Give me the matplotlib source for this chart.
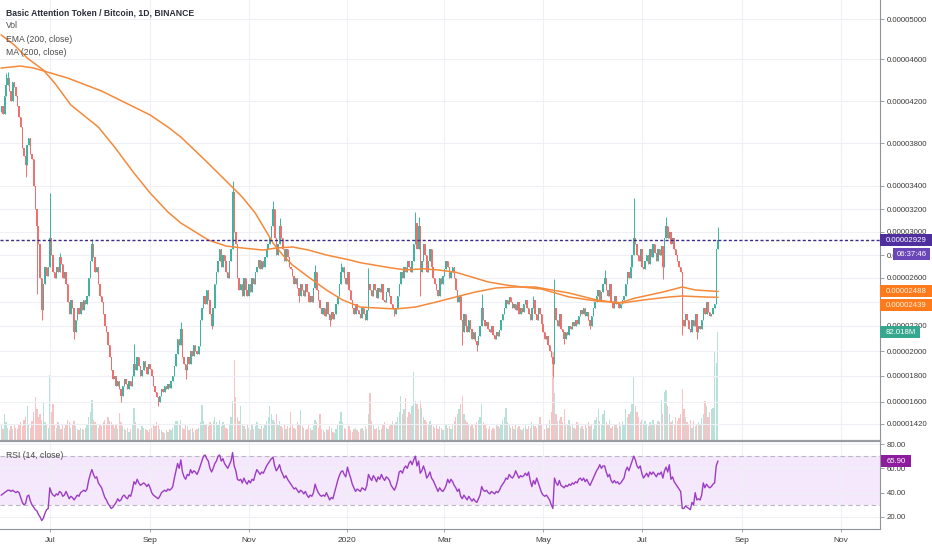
import numpy as np
import pandas as pd
import matplotlib
matplotlib.use("Agg")
import matplotlib.pyplot as plt
import matplotlib.dates as mdates
from matplotlib.ticker import FixedLocator, FuncFormatter
from matplotlib.transforms import IdentityTransform
from matplotlib.patches import Rectangle

plt.rcParams['font.family'] = ['Liberation Sans', 'DejaVu Sans']

# ---- data (prices in satoshi, 1e-8 BTC), daily from 2019-06-01 ----
start = '2019-06-01'
first_open = 4100
close = [
    4150, 4080, 4250, 4350, 4420, 4300, 4200, 4380, 4330, 4250,
    4150, 4050, 3950, 3750, 3680, 3600, 3780, 3850, 3700, 3650,
    3400, 3200, 3050, 2900, 2600, 2330, 2550, 2700, 2620, 2700,
    2950, 2800, 2650, 2600, 2700, 2650, 2780, 2720, 2600, 2650,
    2550, 2400, 2300, 2420, 2350, 2150, 2250, 2350, 2300, 2400,
    2330, 2420, 2380, 2450, 2600, 2750, 2900, 2780, 2650, 2700,
    2550, 2450, 2400, 2300, 2200, 2150, 2050, 1950, 1850, 1780,
    1800, 1720, 1760, 1700, 1650, 1720, 1780, 1740, 1700, 1760,
    1720, 1800, 1900, 1850, 1950, 1880, 1800, 1850, 1920, 1870,
    1820, 1900, 1860, 1800, 1720, 1680, 1640, 1600, 1650, 1700,
    1680, 1720, 1700, 1740, 1710, 1760, 1800, 1880, 1980, 2100,
    2050, 2180, 1950, 1900, 1850, 1950, 1900, 2000, 1960, 2050,
    2000, 1980, 2040, 2250, 2350, 2450, 2380, 2500, 2420, 2300,
    2200, 2350, 2550, 2650, 2750, 2850, 2700, 2800, 2750, 2650,
    2600, 2750, 2850, 3350, 3000, 2900, 2600, 2500, 2550, 2450,
    2600, 2500, 2450, 2550, 2480, 2600, 2550, 2650, 2700, 2760,
    2680, 2750, 2700, 2780, 2850, 2900, 2950, 3050, 3200, 2950,
    2800, 2900, 3050, 2950, 2850, 2750, 2850, 2780, 2700, 2680,
    2620, 2550, 2600, 2520, 2450, 2550, 2500, 2450, 2550, 2480,
    2400, 2450, 2400, 2520, 2650, 2500, 2420, 2350, 2300, 2350,
    2280, 2400, 2300, 2250, 2320, 2260, 2300, 2380, 2450, 2550,
    2650, 2700, 2600, 2550, 2650, 2500, 2420, 2350, 2300, 2380,
    2330, 2300, 2270, 2350, 2300, 2250, 2330, 2550, 2500, 2450,
    2550, 2500, 2430, 2520, 2480, 2550, 2420, 2400, 2480, 2520,
    2450, 2380, 2340, 2300, 2350, 2450, 2550, 2650, 2600, 2700,
    2650, 2750, 2700, 2650, 2750, 2900, 3080, 2850, 3050, 2650,
    2750, 2900, 2800, 2650, 2750, 2850, 2700, 2600, 2550, 2500,
    2450, 2600, 2550, 2620, 2680, 2750, 2700, 2600, 2650, 2700,
    2600, 2500, 2400, 2450, 2250, 2150, 2300, 2200, 2150, 2250,
    2180, 2100, 2150, 2080, 2050, 2120, 2200, 2350, 2250, 2200,
    2230, 2180, 2150, 2200, 2130, 2100, 2150, 2120, 2170, 2250,
    2300, 2350, 2420, 2380, 2440, 2400, 2350, 2380, 2330, 2400,
    2300, 2350, 2320, 2380, 2420, 2350, 2300, 2250, 2350, 2420,
    2300, 2250, 2350, 2300, 2220, 2150, 2100, 2120, 2050, 2000,
    1950, 1900, 2350, 2250, 2200, 2300, 2180, 2150, 2100, 2150,
    2130, 2200, 2180, 2230, 2200, 2250, 2220, 2280, 2330, 2300,
    2350, 2280, 2320, 2250, 2200, 2280, 2350, 2400, 2450, 2500,
    2420, 2480, 2550, 2600, 2500, 2450, 2550, 2400, 2350, 2450,
    2380, 2400, 2350, 2380, 2420, 2450, 2550, 2650, 2600, 2700,
    2800, 2950, 2900, 2800, 2750, 2850, 2700, 2680, 2750, 2800,
    2720, 2850, 2780, 2900, 2820, 2750, 2850, 2800, 2880, 2700,
    2950, 3050, 2950, 3000, 2900, 2950, 2850, 2800, 2750, 2700,
    2650, 2250, 2200, 2300, 2250, 2180, 2150, 2250, 2200, 2300,
    2150, 2200, 2180, 2250, 2350, 2300, 2400, 2320, 2280, 2300,
    2350, 2380, 2850, 2929]

# wicks that stick out past the body (day index -> price)
wick_high = {3: 4470, 4: 4480, 30: 3340, 36: 2820, 56: 2940, 82: 2060, 111: 2230,
             143: 3450, 168: 3270, 172: 3120, 194: 2710, 210: 2730, 227: 2690,
             256: 3170, 258: 3130, 297: 2470, 329: 2450, 342: 2590, 373: 2670,
             391: 3300, 411: 3130, 443: 3040}
wick_low = {15: 3480, 22: 2470, 25: 2250, 45: 2095, 74: 1600, 97: 1570, 114: 1780,
            130: 2180, 184: 2400, 203: 2200, 243: 2280, 259: 2450, 285: 2050,
            294: 2000, 341: 1790, 348: 2060, 364: 2180, 409: 2590, 421: 2130, 430: 2100}

volume = [  # millions
    12, 9, 20, 14, 10, 8, 11, 9, 13, 10,
    9, 12, 14, 11, 16, 18, 26, 12, 10, 15,
    22, 33, 24, 18, 20, 16, 29, 14, 12, 10,
    50, 22, 28, 12, 10, 14, 11, 9, 13, 10,
    12, 16, 14, 10, 12, 15, 11, 9, 8, 10,
    9, 8, 10, 12, 18, 22, 31, 16, 14, 12,
    10, 12, 11, 14, 16, 13, 18, 15, 14, 12,
    10, 12, 9, 21, 14, 11, 9, 8, 10, 7,
    9, 12, 25, 14, 10, 9, 8, 11, 10, 9,
    8, 7, 9, 10, 12, 11, 14, 12, 9, 8,
    7, 6, 8, 7, 9, 8, 10, 12, 15, 15,
    13, 16, 10, 9, 12, 11, 8, 9, 10, 7,
    8, 9, 10, 14, 27, 15, 12, 13, 11, 14,
    12, 15, 18, 14, 13, 16, 11, 14, 12, 10,
    9, 12, 18, 30, 61, 33, 18, 15, 26, 12,
    11, 9, 13, 10, 8, 12, 9, 11, 14, 10,
    9, 11, 10, 13, 15, 18, 26, 20, 16, 14,
    20, 13, 15, 11, 10, 12, 9, 11, 10, 22,
    12, 10, 9, 14, 12, 23, 11, 10, 8, 9,
    12, 10, 8, 11, 16, 14, 10, 20, 9, 8,
    7, 9, 8, 11, 10, 7, 6, 9, 12, 15,
    22, 14, 10, 9, 12, 11, 8, 7, 9, 10,
    8, 7, 9, 10, 8, 11, 9, 20, 36, 15,
    12, 9, 10, 11, 8, 9, 12, 14, 10, 9,
    11, 13, 15, 12, 14, 18, 22, 34, 20, 24,
    32, 18, 22, 20, 26, 52, 30, 28, 24, 30,
    25, 18, 16, 14, 12, 15, 13, 11, 10, 12,
    9, 11, 10, 8, 9, 12, 10, 11, 9, 13,
    15, 18, 20, 24, 28, 34, 20, 16, 14, 12,
    11, 13, 10, 12, 14, 16, 18, 28, 14, 12,
    10, 9, 11, 8, 10, 9, 12, 11, 10, 13,
    16, 18, 25, 14, 12, 10, 11, 9, 12, 10,
    11, 9, 8, 10, 12, 9, 11, 10, 14, 12,
    11, 10, 13, 18, 12, 14, 9, 12, 10, 16,
    22, 67, 36, 20, 15, 16, 18, 14, 24, 13,
    12, 16, 11, 13, 10, 9, 14, 12, 10, 11,
    9, 12, 10, 14, 11, 13, 9, 16, 18, 24,
    15, 12, 20, 23, 14, 12, 16, 10, 11, 13,
    12, 10, 14, 11, 15, 13, 24, 18, 20, 22,
    28, 49, 26, 22, 18, 14, 16, 12, 15, 13,
    11, 14, 12, 16, 13, 12, 15, 14, 31, 20,
    37, 38, 26, 20, 14, 16, 12, 18, 15, 17,
    20, 39, 24, 18, 14, 12, 16, 10, 15, 11,
    12, 14, 13, 17, 20, 30, 26, 18, 22, 24,
    25, 68, 59, 82.018]

rsi = [
    38, 39, 40, 41, 42, 42, 41, 42, 41, 40,
    41, 40, 36, 32, 30, 31, 37, 38, 33, 30,
    28, 26, 25, 22, 20, 17, 19, 23, 26, 27,
    44, 40, 38, 37, 39, 38, 41, 40, 37, 38,
    41, 38, 35, 37, 36, 34, 36, 38, 37, 40,
    41, 42, 41, 43, 50, 55, 59, 55, 52, 53,
    48, 46, 44, 40, 36, 34, 31, 29, 27, 28,
    30, 32, 35, 33, 34, 37, 38, 36, 35, 38,
    37, 42, 49, 47, 51, 48, 46, 47, 48, 47,
    45, 47, 44, 40, 38, 37, 36, 35, 37, 40,
    41, 42, 41, 43, 42, 43, 45, 52, 58, 64,
    60, 67, 57, 53, 51, 55, 54, 59, 56, 58,
    57, 55, 58, 62, 66, 70, 71, 68, 66, 60,
    57, 60, 64, 66, 70, 71, 66, 68, 64, 62,
    60, 63, 66, 73, 62, 58, 51, 50, 51, 48,
    52, 49, 47, 50, 48, 51, 50, 55, 59, 57,
    55, 57, 56, 59, 62, 64, 66, 68, 69, 62,
    58, 60, 63, 58, 55, 52, 54, 51, 49, 47,
    45, 43, 44, 42, 40, 42, 41, 39, 41, 38,
    36, 38, 37, 40, 47, 43, 40, 38, 37, 38,
    37, 40, 37, 34, 36, 35, 40, 45, 50, 54,
    57, 58, 55, 53, 61, 56, 52, 47, 44, 41,
    43, 42, 41, 44, 43, 42, 46, 55, 52, 50,
    54, 52, 49, 53, 51, 55, 52, 50, 53, 52,
    50, 46, 44, 42, 45, 50, 57, 58, 56, 60,
    62, 60, 64, 66, 63, 67, 70, 62, 66, 56,
    58, 62, 58, 52, 54, 57, 52, 50, 47, 44,
    41, 44, 42, 41, 43, 46, 51, 48, 51, 49,
    46, 44, 41, 43, 37, 35, 38, 36, 34, 37,
    35, 33, 35, 33, 32, 35, 38, 45, 42, 41,
    42, 40, 39, 41, 40, 39, 41, 40, 42, 45,
    47, 49, 52, 51, 55, 53, 52, 54, 58, 55,
    52, 54, 53, 54, 56, 54, 57, 50, 45, 50,
    47, 52, 48, 44, 40, 38, 37, 38, 36, 34,
    30, 27, 52, 48, 46, 50, 46, 45, 44, 46,
    45, 47, 46, 48, 47, 49, 48, 51, 52, 50,
    52, 49, 51, 48, 46, 49, 52, 55, 58, 60,
    63, 60, 62, 62, 57, 53, 55, 50, 48, 50,
    48, 49, 47, 48, 50, 52, 58, 61, 58, 62,
    66, 70, 67, 62, 60, 62, 56, 52, 54, 56,
    53, 57, 55, 57, 55, 53, 56, 55, 57, 52,
    58, 61, 57, 63, 51, 53, 49, 47, 45, 43,
    41, 27, 27, 29, 28, 27, 26, 32, 30, 40,
    34, 35, 34, 38, 48, 44, 47, 45, 44, 45,
    47, 48, 62, 65.9]

# moving averages (day index, price)
ema_day = [0, 12, 20, 41, 62, 82, 92, 103, 111, 126, 149, 157, 164, 168, 174, 180, 190,
           201, 211, 222, 232, 244, 256, 269, 281, 293, 306, 318, 330, 351, 368, 382,
           392, 409, 421, 429, 443]
ema_val = [4514, 4533, 4514, 4419, 4295, 4143, 4067, 3952, 3857, 3640, 3304, 3165, 3000,
           2904, 2800, 2713, 2608, 2500, 2417, 2358, 2350, 2342, 2358, 2400, 2442, 2483,
           2517, 2525, 2525, 2475, 2417, 2392, 2433, 2483, 2525, 2500, 2488]
ma_day = [0, 8, 16, 26, 33, 43, 60, 70, 82, 92, 103, 111, 120, 128, 139, 149, 162, 170,
          180, 190, 201, 215, 222, 240, 250, 261, 270, 281, 291, 301, 312, 322, 334,
          351, 368, 384, 397, 413, 421, 434, 443]
ma_val = [4840, 4740, 4610, 4495, 4371, 4162, 3952, 3763, 3521, 3339, 3174, 3078, 3000,
          2930, 2878, 2861, 2843, 2861, 2870, 2843, 2800, 2758, 2733, 2690, 2670, 2680,
          2670, 2650, 2608, 2567, 2542, 2525, 2508, 2442, 2408, 2392, 2417, 2442, 2450,
          2442, 2439]

last_price = 2929
countdown = '06:37:46'
price_ticks = [1420, 1600, 1800, 2000, 2200, 2400, 2600, 2800, 3000, 3200, 3400, 3800,
               4200, 4600, 5000]
hidden_ticks = [2400]  # covered by the orange tags on the reference
rsi_ticks = [20, 40, 60, 80]
month_ticks = ['2019-07-01', '2019-09-01', '2019-11-01', '2020-01-01', '2020-03-01',
               '2020-05-01', '2020-07-01', '2020-09-01', '2020-11-01']
month_labels = ['Jul', 'Sep', 'Nov', '2020', 'Mar', 'May', 'Jul', 'Sep', 'Nov']

# ---- price scale as drawn on the right-hand axis (price -> screen row) ----
scale_p = [1200, 1420, 1600, 1800, 2000, 2200, 2600, 3000, 3200, 3400, 3800, 4200, 4600, 5000, 5600]
scale_y = [451, 424, 402, 376, 351, 326, 278, 232, 209, 186, 143, 101, 59, 19, -41]


def fwd(p):
    return -np.interp(np.asarray(p, dtype=float), scale_p, scale_y)


def inv(v):
    return np.interp(-np.asarray(v, dtype=float), scale_y[::-1], scale_p[::-1])


def price_fmt(v, _):
    if int(round(v)) in hidden_ticks:
        return ''
    return f"{v * 1e-8:.8f}"


n = len(close)
x = mdates.date2num(pd.date_range(start, periods=n, freq='D'))
c = np.array(close, dtype=float)
o = np.array([first_open] + close[:-1], dtype=float)
hi = np.maximum(o, c)
lo = np.minimum(o, c)
for d, v in wick_high.items():
    hi[d] = max(hi[d], v)
for d, v in wick_low.items():
    lo[d] = min(lo[d], v)
up = c >= o

UP, DN = '#3fb39f', '#ef6f6f'
VUP, VDN = '#b9e1da', '#f6c4c4'
GRID = '#eef0f5'
AXC = '#8f929a'
TXT = '#3a3a3a'
FS = 5.6

W, H = 932, 550
fig = plt.figure(figsize=(W / 100, H / 100), dpi=100, facecolor='white')

ax = fig.add_axes([0, 109 / H, 880 / W, 441 / H])
ax_v = fig.add_axes([0, 109 / H, 880 / W, 441 / H], sharex=ax)
ax_r = fig.add_axes([0, 21 / H, 880 / W, 88 / H], sharex=ax)
ax_v.set_zorder(0)
ax.set_zorder(1)
ax.patch.set_visible(False)
ax_v.axis('off')

x0 = mdates.date2num(pd.Timestamp(start)) - 0.8

# volume
ax_v.bar(x, volume, width=0.8, color=np.where(up, VUP, VDN), linewidth=0)
ax_v.set_ylim(0, volume[-1] * 441 / 109)

# price
ax.set_yscale('function', functions=(fwd, inv))
ax.set_ylim(inv(-441), inv(0))
ax.vlines(x, lo, hi, colors=np.where(up, UP, DN), linewidth=0.7, zorder=3)
ax.bar(x, np.maximum(np.abs(c - o), 4), bottom=np.minimum(o, c), width=0.85,
       color=np.where(up, UP, DN), linewidth=0, zorder=3)
ax.plot(x[ma_day], ma_val, color='#f5893a', lw=1.1, zorder=4)
ax.plot(x[ema_day], ema_val, color='#f5893a', lw=1.1, zorder=4)
ax.axhline(last_price, color='#3d2a8c', lw=1.0, ls=(0, (2.2, 1.6)), zorder=5)

ax.yaxis.tick_right()
ax.yaxis.set_major_locator(FixedLocator(price_ticks))
ax.yaxis.set_major_formatter(FuncFormatter(price_fmt))
ax.yaxis.set_minor_locator(FixedLocator([]))
ax.tick_params(axis='y', length=3, width=0.6, color=AXC, labelsize=FS, labelcolor=TXT, pad=2)
ax.tick_params(axis='x', length=0, labelbottom=False)
ax.grid(True, color=GRID, lw=0.8)
ax.set_axisbelow(True)
for s in ['top', 'left']:
    ax.spines[s].set_visible(False)
ax.spines['right'].set_color(AXC)
ax.spines['right'].set_linewidth(0.8)
ax.spines['bottom'].set_color('#9a9ca3')
ax.spines['bottom'].set_linewidth(1.6)

# RSI pane
ax_r.set_ylim(10.1, 82.5)
ax_r.axhspan(30, 70, color='#f5e8fc', lw=0, zorder=0)
ax_r.axhline(70, color='#b8b8c2', lw=0.8, ls=(0, (4, 3)), zorder=1)
ax_r.axhline(30, color='#b8b8c2', lw=0.8, ls=(0, (4, 3)), zorder=1)
ax_r.plot(x, rsi, color='#9c3cc4', lw=1.0, zorder=3)
ax_r.yaxis.tick_right()
ax_r.set_yticks(rsi_ticks)
ax_r.yaxis.set_major_formatter(FuncFormatter(lambda v, _: f"{v:.2f}"))
ax_r.tick_params(axis='y', length=3, width=0.6, color=AXC, labelsize=FS, labelcolor=TXT, pad=2)
ax_r.set_xticks(mdates.date2num(pd.to_datetime(month_ticks)))
ax_r.set_xticklabels(month_labels)
ax_r.tick_params(axis='x', length=2.5, width=0.6, color=AXC, labelsize=6, labelcolor=TXT, pad=3)
ax_r.grid(True, color=GRID, lw=0.8)
ax_r.set_axisbelow(True)
for s in ['top', 'left']:
    ax_r.spines[s].set_visible(False)
for s in ['right', 'bottom']:
    ax_r.spines[s].set_color(AXC)
    ax_r.spines[s].set_linewidth(0.8)
ax.set_xlim(x0, x0 + 880 / 1.6175)

# ---- texts in pixel coordinates ----
px = IdentityTransform()


def tag(yc, text, bg, xa=880, xb=932, h=12, fg='white', center=False):
    fig.add_artist(Rectangle((xa, yc - h / 2), xb - xa, h, transform=px,
                             facecolor=bg, edgecolor='none', zorder=20))
    if center:
        fig.text((xa + xb) / 2, yc, text, transform=px, ha='center', va='center',
                 fontsize=FS, color=fg, zorder=21)
    else:
        fig.text(xa + 6, yc, text, transform=px, ha='left', va='center',
                 fontsize=FS, color=fg, zorder=21)


fig.canvas.draw()
y_last = ax.transData.transform((x[0], last_price))[1]
y_ema = ax.transData.transform((x[0], ema_val[-1]))[1]
y_vol = ax_v.transData.transform((x[0], volume[-1]))[1]
y_rsi = ax_r.transData.transform((x[0], rsi[-1]))[1]

tag(y_last, f"{last_price * 1e-8:.8f}", '#4f2f9e')
tag(y_last - 14, countdown, '#6a46b9', xa=893, xb=930, center=True)
tag(y_ema, f"{ema_val[-1] * 1e-8:.8f}", '#ff7a1a', fg='#fff3e6')
tag(y_ema - 14, f"{ma_val[-1] * 1e-8:.8f}", '#ff7a1a', fg='#fff3e6')
tag(y_vol, f"{volume[-1]:.3f}M", '#36a78f', xb=920)
tag(y_rsi, f"{rsi[-1]:.2f}", '#8e1c9f', xa=881, xb=911)

fig.text(6, H - 13, 'Basic Attention Token / Bitcoin, 1D, BINANCE', transform=px,
         ha='left', va='center', fontsize=6.2, fontweight='bold', color='#2a2e39')
for i, s in enumerate(['Vol', 'EMA (200, close)', 'MA (200, close)']):
    fig.text(6, H - 26 - 13.3 * i, s, transform=px, ha='left', va='center',
             fontsize=6.2, color='#4a4a4a')
fig.text(6, H - 455, 'RSI (14, close)', transform=px, ha='left', va='center',
         fontsize=6.2, color='#4a4a4a')

fig.savefig('out.png', dpi=100, facecolor='white')
